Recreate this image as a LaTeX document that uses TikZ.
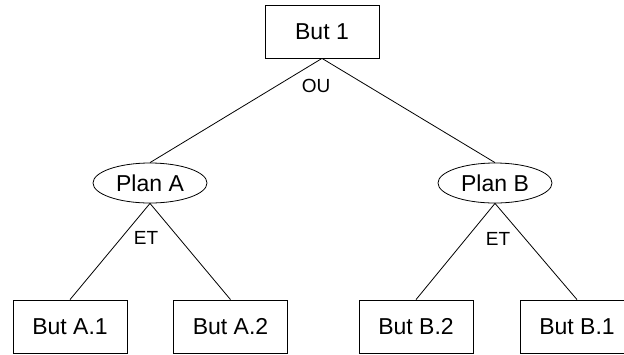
\documentclass[tikz,border=0pt]{standalone}
\usepackage{fontspec}
\setmainfont{Liberation Sans}
\usetikzlibrary{shapes.geometric}
\begin{document}
\begin{tikzpicture}[x=1pt,y=-1pt,
  goalbox/.style={draw,rectangle,line width=0.8pt,minimum width=114pt,minimum height=53pt,inner sep=0pt,font=\fontsize{23}{27}\selectfont},
  planbox/.style={draw,ellipse,line width=0.8pt,minimum width=114pt,minimum height=40pt,inner sep=0pt,font=\fontsize{23}{27}\selectfont},
  link/.style={line width=0.8pt},
  lbl/.style={inner sep=0pt,font=\fontsize{19}{22}\selectfont}]
\clip (0,0) rectangle (624,354);
\fill[white] (0,0) rectangle (624,354);
% goal tree
\node[goalbox] (b1) at (322,31.5) {But 1};
\node[planbox] (pa) at (150,183) {Plan A};
\node[planbox] (pb) at (495,183) {Plan B};
\node[goalbox] (a1) at (70,326.5) {But A.1};
\node[goalbox] (a2) at (230.5,326.5) {But A.2};
\node[goalbox] (bb2) at (416,326.5) {But B.2};
\node[goalbox] (bb1) at (577,326.5) {But B.1};
% connectors
\draw[link] (b1.south) -- (pa.north);
\draw[link] (b1.south) -- (pb.north);
\draw[link] (pa.south) -- (a1.north);
\draw[link] (pa.south) -- (a2.north);
\draw[link] (pb.south) -- (bb2.north);
\draw[link] (pb.south) -- (bb1.north);
% decomposition labels
\node[lbl] (ou) at (316,86) {OU};
\node[lbl] (eta) at (146,238) {ET};
\node[lbl] (etb) at (498,239) {ET};
\end{tikzpicture}
\end{document}
